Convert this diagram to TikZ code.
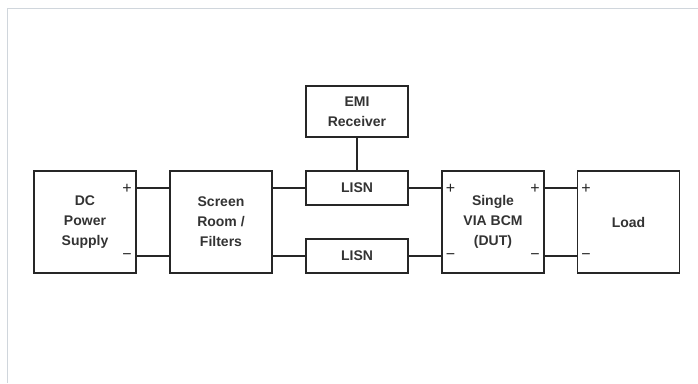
\documentclass[tikz,border=0pt]{standalone}
\usepackage{fontspec}
\setmainfont{Liberation Sans}
\usetikzlibrary{positioning,calc}
\definecolor{framegray}{HTML}{D0D6DC}
\definecolor{textgray}{HTML}{333333}

\begin{document}
\begin{tikzpicture}[x=1pt,y=-1pt,
	blk/.style={draw=black!85, line width=1.1pt, minimum width=102pt, align=center, inner sep=0pt,
		font=\fontsize{14}{20}\selectfont\bfseries, text=textgray},
	sgn/.style={font=\fontsize{16}{16}\selectfont, text=black!85, inner sep=0pt},
	wire/.style={line width=1.1pt, black!85}]
	
	\useasboundingbox (0,0) rectangle (698,383);
	\draw[framegray, line width=1.5pt] (7.7,383) -- (7.7,8.7) -- (698,8.7);
	
	% main chain
	\node[blk, minimum height=102pt] (dc) at (85,222) {DC\\Power\\Supply};
	\node[blk, minimum height=102pt] (screen) at (221,222) {Screen\\Room /\\Filters};
	\node[blk, minimum height=34pt] (lisnA) at (357,188) {LISN};
	\node[blk, minimum height=34pt] (lisnB) at (357,256) {LISN};
	\node[blk, minimum height=51pt] (emi) at (357,111.5) {EMI\\Receiver};
	\node[blk, minimum height=102pt] (dut) at (493,222) {Single\\VIA BCM\\(DUT)};
	\node[blk, minimum height=102pt] (load) at (628.5,222) {Load};
	
	% terminals
	\node[sgn] (dcP) at (127,188.5) {+};
	\node[sgn] (dcM) at (127,256.5) {−};
	\node[sgn] (dutPi) at (450.5,188.5) {+};
	\node[sgn] (dutMi) at (450.5,256.5) {−};
	\node[sgn] (dutPo) at (535,188.5) {+};
	\node[sgn] (dutMo) at (535,256.5) {−};
	\node[sgn] (loadP) at (586,188.5) {+};
	\node[sgn] (loadM) at (586,256.5) {−};
	
	% wiring
	\draw[wire] (dc.east |- lisnA) -- (screen.west |- lisnA);
	\draw[wire] (dc.east |- lisnB) -- (screen.west |- lisnB);
	\draw[wire] (screen.east |- lisnA) -- (lisnA.west);
	\draw[wire] (screen.east |- lisnB) -- (lisnB.west);
	\draw[wire] (lisnA.east) -- (dut.west |- lisnA);
	\draw[wire] (lisnB.east) -- (dut.west |- lisnB);
	\draw[wire] (dut.east |- lisnA) -- (load.west |- lisnA);
	\draw[wire] (dut.east |- lisnB) -- (load.west |- lisnB);
	\draw[wire] (emi.south) -- (lisnA.north);
	
\end{tikzpicture}
\end{document}
